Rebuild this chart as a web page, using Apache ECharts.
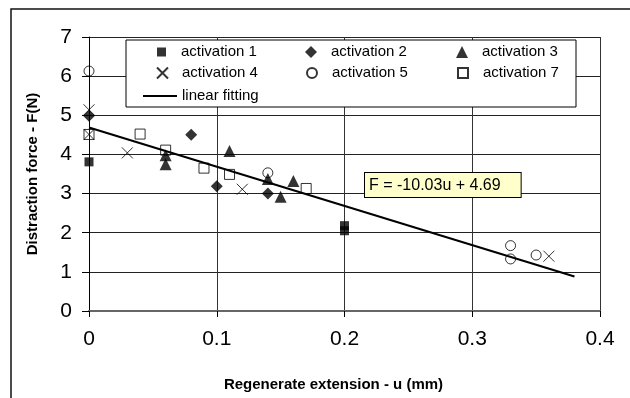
<!DOCTYPE html>
<html>
<head>
<meta charset="utf-8">
<script src="https://cdn.jsdelivr.net/npm/echarts@6/dist/echarts.min.js"></script>
<style>html,body{margin:0;padding:0;background:#fff;}#c{width:630px;height:398px;}</style>
</head>
<body>
<div id="c"></div>
<script>
// ---- data ----
var act1 = [[0, 3.81], [0.2, 2.18], [0.2, 2.05]];
var act2 = [[0, 4.99], [0.08, 4.5], [0.1, 3.19], [0.14, 3.0]];
var act3 = [[0.06, 3.98], [0.06, 3.75], [0.11, 4.09], [0.14, 3.37], [0.15, 2.92], [0.16, 3.32]];
var act4 = [[0, 5.14], [0, 4.51], [0.03, 4.04], [0.12, 3.11], [0.36, 1.4]];
var act5 = [[0, 6.13], [0.14, 3.53], [0.33, 1.67], [0.33, 1.33], [0.35, 1.43]];
var act7 = [[0, 4.51], [0.04, 4.52], [0.06, 4.11], [0.09, 3.65], [0.11, 3.49], [0.17, 3.13]];
var fitLine = [[0, 4.69], [0.38, 0.88]];
var seriesNames = ['activation 1', 'activation 2', 'activation 3', 'activation 4', 'activation 5', 'activation 7', 'linear fitting'];
var fitLabel = 'F = -10.03u + 4.69';
var xTitle = 'Regenerate extension - u (mm)';
var yTitle = 'Distraction force - F(N)';

var FONT = '"Liberation Sans", Arial, sans-serif';
var crossPath = 'path://M0,0L10,10M0,10L10,0';

function sc(name, data, symbol, size, filled) {
  return {
    type: 'scatter', name: name, data: data, symbol: symbol, symbolSize: size,
    itemStyle: filled ? { color: '#000' } : { color: 'rgba(0,0,0,0)', borderColor: '#000', borderWidth: 1 },
    z: 5
  };
}

var series = [
  sc(seriesNames[0], act1, 'rect', 9, true),
  sc(seriesNames[1], act2, 'diamond', 12, true),
  sc(seriesNames[2], act3, 'triangle', 12, true),
  sc(seriesNames[3], act4, crossPath, 11, false),
  sc(seriesNames[4], act5, 'circle', 10, false),
  sc(seriesNames[5], act7, 'rect', 10, false),
  { type: 'line', name: seriesNames[6], data: fitLine, symbol: 'none', lineStyle: { color: '#000', width: 2 }, itemStyle: { color: '#000' }, z: 4 }
];

// legend layout: [symbol centre x, row centre y, icon size]
var legPos = [
  [161.5, 52, 9], [311, 52, 12], [462, 52, 12],
  [161.5, 73, 11], [311, 73, 10], [462, 73, 10]
];
var textStart = [181, 331, 482, 181, 331, 482];
var legends = [];
for (var i = 0; i < 6; i++) {
  var p = legPos[i], s = p[2];
  var left = p[0] - s / 2;
  legends.push({
    data: [seriesNames[i]], left: left, top: p[1] - 9, padding: 0,
    itemWidth: s, itemHeight: s, selectedMode: false, z: 10,
    textStyle: { fontFamily: FONT, fontSize: 15, color: '#000', lineHeight: 18, padding: [0, 0, 0, textStart[i] - (left + s + 5)] }
  });
}
legends.push({
  data: [{ name: seriesNames[6], icon: 'rect' }], left: 143, top: 96 - 9, padding: 0,
  itemWidth: 34, itemHeight: 2, selectedMode: false, z: 10,
  itemStyle: { color: '#000' },
  textStyle: { fontFamily: FONT, fontSize: 15, color: '#000', lineHeight: 18 }
});

var chart = echarts.init(document.getElementById('c'), null, { renderer: 'canvas' });
chart.setOption({
  animation: false,
  backgroundColor: '#fff',
  grid: { left: 89, right: 30, top: 37, bottom: 87 },
  xAxis: {
    type: 'value', min: 0, max: 0.4, interval: 0.1,
    name: xTitle, nameLocation: 'middle', nameGap: 66,
    nameTextStyle: { fontFamily: FONT, fontSize: 15, fontWeight: 'bold', color: '#000', padding: [0, 22, 0, 0] },
    axisLine: { show: true, onZero: false, lineStyle: { color: '#666', width: 2 } },
    axisTick: { show: true, length: 6, lineStyle: { color: '#000' } },
    axisLabel: { fontFamily: FONT, fontSize: 21, color: '#000', margin: 18 },
    splitLine: { show: true, lineStyle: { color: '#333', width: 1 } }
  },
  yAxis: {
    type: 'value', min: 0, max: 7, interval: 1,
    name: yTitle, nameLocation: 'middle', nameGap: 49,
    nameTextStyle: { fontFamily: FONT, fontSize: 15, fontWeight: 'bold', color: '#000' },
    axisLine: { show: true, onZero: false, lineStyle: { color: '#000', width: 1 } },
    axisTick: { show: true, length: 7, lineStyle: { color: '#000' } },
    axisLabel: { fontFamily: FONT, fontSize: 21, color: '#000', margin: 17 },
    splitLine: { show: true, lineStyle: { color: '#222', width: 1 } }
  },
  legend: legends,
  graphic: [
    { type: 'rect', shape: { x: 11, y: 9, width: 700, height: 500 }, style: { fill: 'none', stroke: '#111', lineWidth: 1.5 }, z: 1, silent: true },
    { type: 'rect', shape: { x: 126, y: 40, width: 450, height: 67 }, style: { fill: '#fff', stroke: '#000', lineWidth: 1 }, z: 3, silent: true },
    { type: 'text', x: 365, y: 173, z: 6, silent: true,
      style: { text: fitLabel, fontFamily: FONT, fontSize: 16, fill: '#000',
        backgroundColor: '#ffffcc', borderColor: '#000', borderWidth: 1,
        padding: [4, 20, 3, 4], lineHeight: 17 } }
  ],
  series: series
});
</script>
</body>
</html>
